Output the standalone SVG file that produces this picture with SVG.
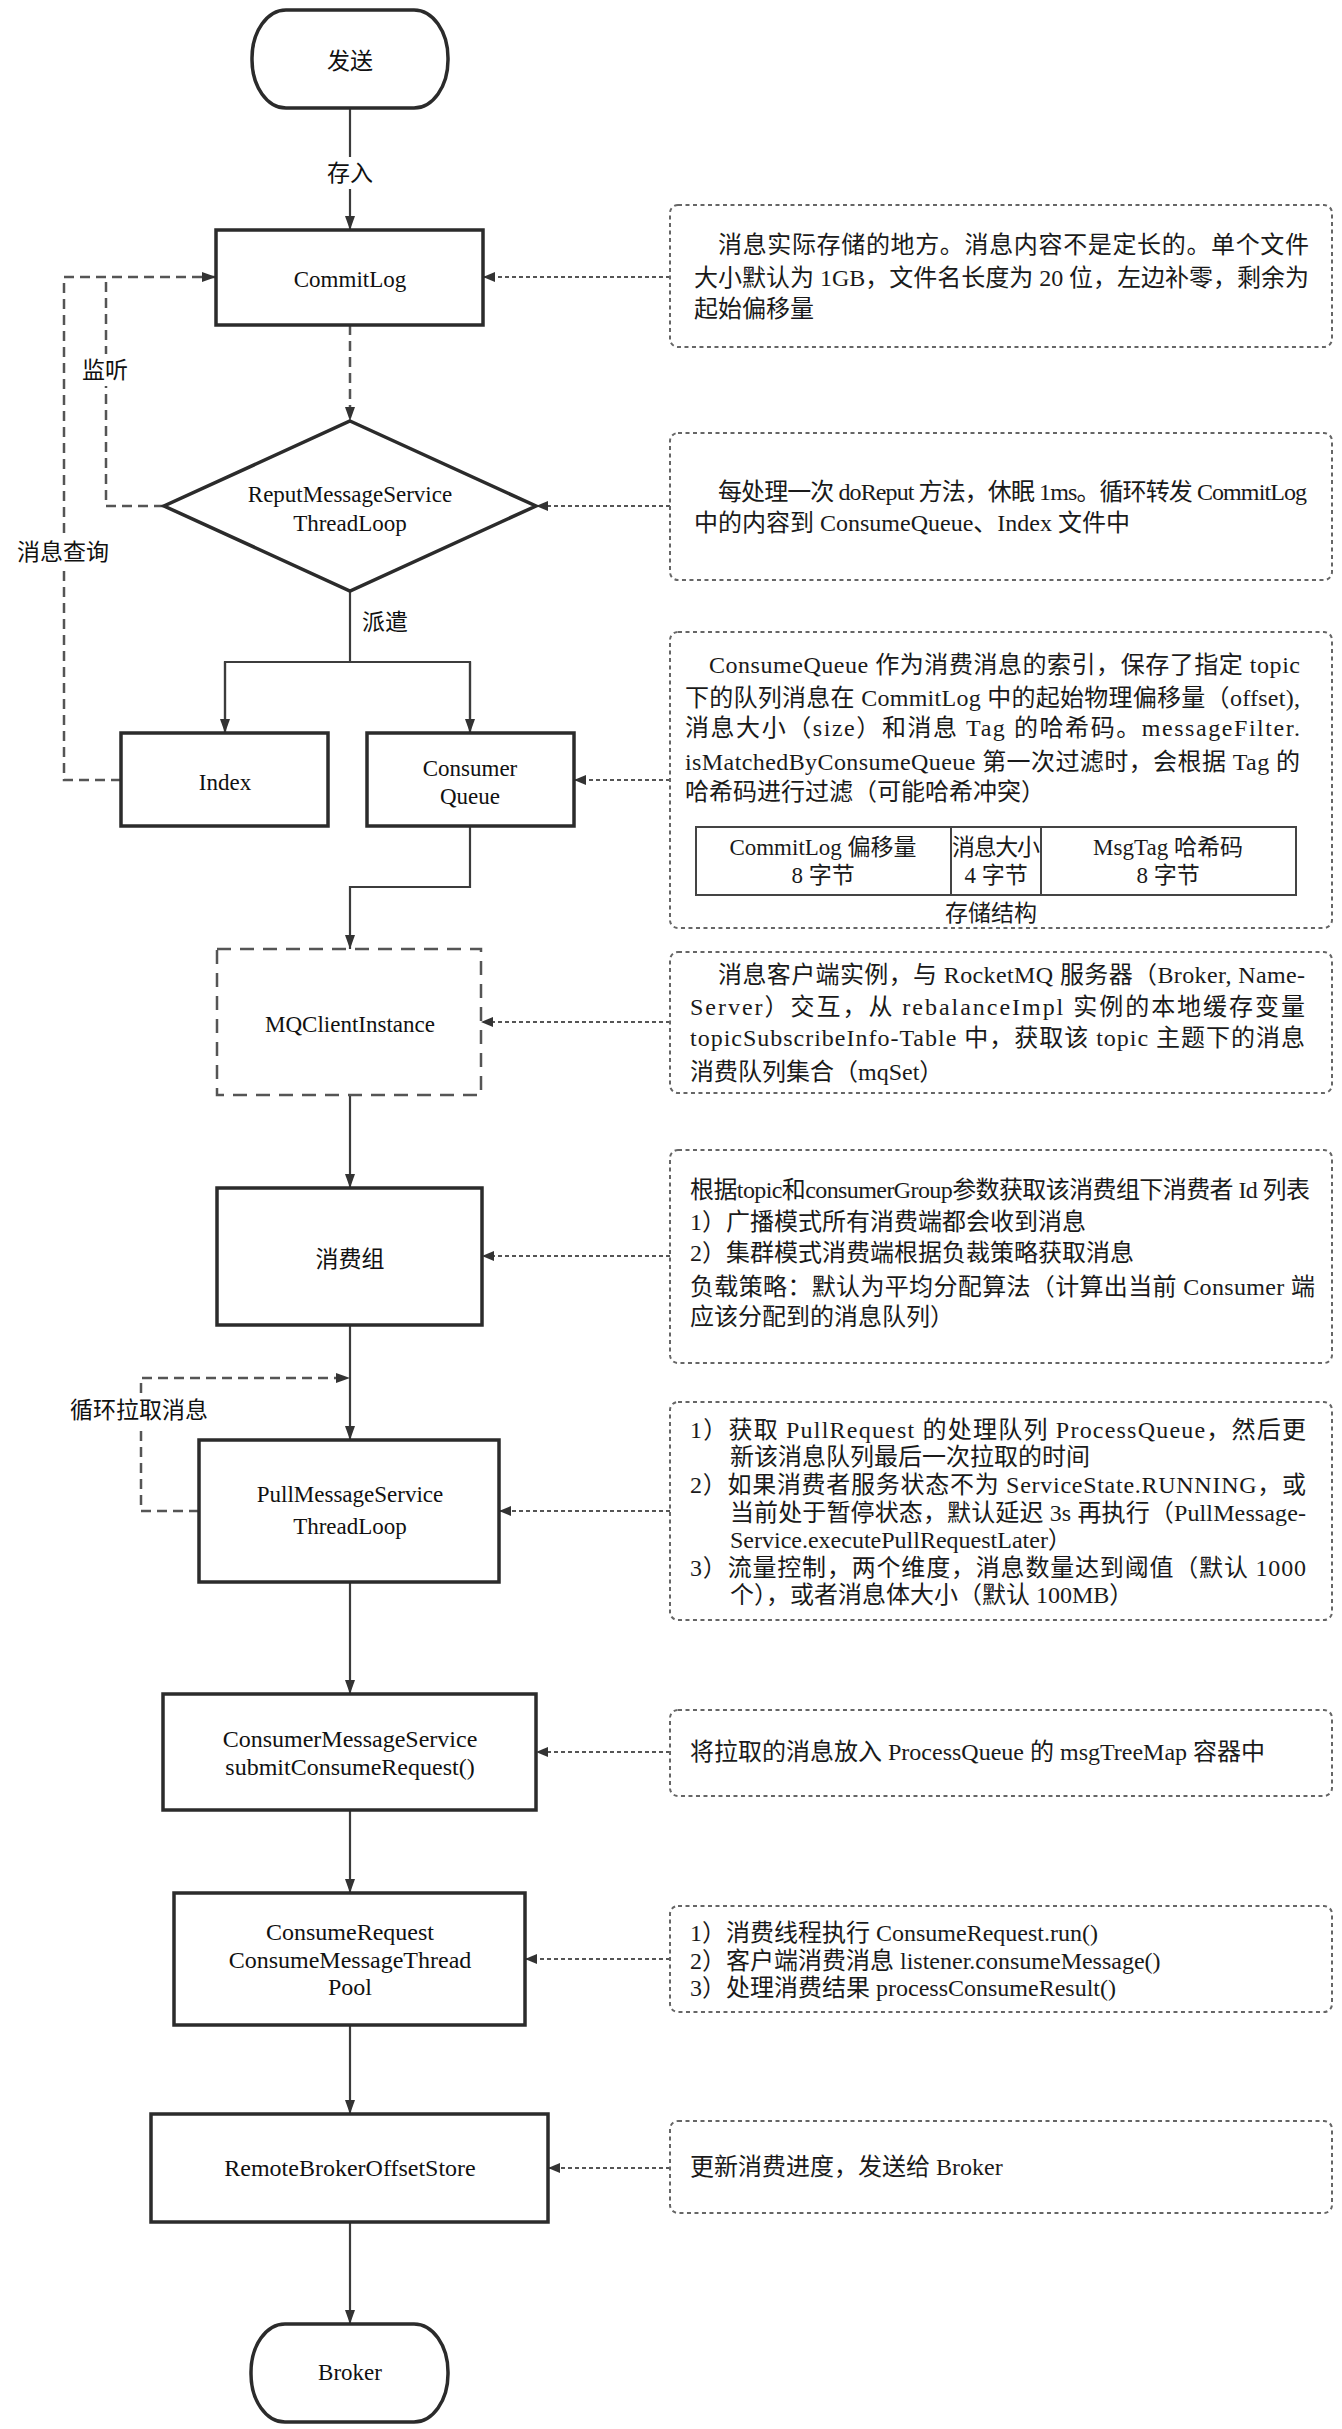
<svg xmlns="http://www.w3.org/2000/svg" width="1342" height="2429" viewBox="0 0 1342 2429">
<style>
.node{fill:#fff;stroke:#2b2b2b;stroke-width:3.5}
.dnode{fill:#fff;stroke:#555;stroke-width:2.5;stroke-dasharray:14 9}
.nt{font-family:"Liberation Serif","Noto Sans CJK SC",serif;font-size:23px;fill:#111;text-anchor:middle;dominant-baseline:central}
.nt2{font-family:"Liberation Serif","Noto Sans CJK SC",serif;font-size:24px;fill:#111;text-anchor:middle;dominant-baseline:central}
.lb{font-family:"Liberation Serif","Noto Sans CJK SC",serif;font-size:23px;fill:#111;text-anchor:middle;dominant-baseline:central}
.note{fill:none;stroke:#666;stroke-width:2;stroke-dasharray:4 3.5}
.tx{font-family:"Liberation Serif","Noto Sans CJK SC",serif;font-size:24px;fill:#1a1a1a;dominant-baseline:central}
.tc{font-family:"Liberation Serif","Noto Sans CJK SC",serif;font-size:23px;fill:#1a1a1a;dominant-baseline:central;text-anchor:middle}
.ln{fill:none;stroke:#3c3c3c;stroke-width:2.2}
.dl{fill:none;stroke:#555;stroke-width:2.5;stroke-dasharray:10 6}
.nd{fill:none;stroke:#555;stroke-width:2;stroke-dasharray:4 3}
.bg{fill:#fff;stroke:none}
.tb{fill:#fff;stroke:#444;stroke-width:2}
</style>
<defs>
<marker id="ah" viewBox="0 0 14 10" refX="14" refY="5" markerWidth="14" markerHeight="10" orient="auto" markerUnits="userSpaceOnUse"><path d="M0,0 L14,5 L0,10 z" fill="#333"/></marker>
<marker id="as" viewBox="0 0 12 10" refX="12" refY="5" markerWidth="12" markerHeight="10" orient="auto" markerUnits="userSpaceOnUse"><path d="M0,0 L12,5 L0,10 z" fill="#333"/></marker>
</defs>
<rect width="1342" height="2429" fill="#fff"/>

<g id="connectors">
  <!-- main flow -->
  <path class="ln" d="M350,108 V230" marker-end="url(#ah)"/>
  <path class="dl" d="M350,325 V421" marker-end="url(#ah)"/>
  <path class="ln" d="M350,591 V662"/>
  <path class="ln" d="M225,733 V662 H470 V733"/>
  <path class="ln" d="M225,662 V733" marker-end="url(#ah)"/>
  <path class="ln" d="M470,662 V733" marker-end="url(#ah)"/>
  <path class="ln" d="M470,826 V887 H350 V949" marker-end="url(#ah)"/>
  <path class="ln" d="M350,1095 V1188" marker-end="url(#ah)"/>
  <path class="ln" d="M350,1325 V1440" marker-end="url(#ah)"/>
  <path class="ln" d="M350,1582 V1694" marker-end="url(#ah)"/>
  <path class="ln" d="M350,1810 V1893" marker-end="url(#ah)"/>
  <path class="ln" d="M350,2025 V2114" marker-end="url(#ah)"/>
  <path class="ln" d="M350,2222 V2324" marker-end="url(#ah)"/>
  <!-- loops -->
  <path class="dl" d="M164,506 H106 V277"/>
  <path class="dl" d="M121,780 H64 V277 H216" marker-end="url(#ah)"/>
  <path class="dl" d="M199,1511 H141 V1378 H350" marker-end="url(#ah)"/>
  <!-- note connectors -->
  <path class="nd" d="M670,277 H483" marker-end="url(#as)"/>
  <path class="nd" d="M670,506 H536" marker-end="url(#as)"/>
  <path class="nd" d="M670,780 H574" marker-end="url(#as)"/>
  <path class="nd" d="M670,1022 H481" marker-end="url(#as)"/>
  <path class="nd" d="M670,1256 H482" marker-end="url(#as)"/>
  <path class="nd" d="M670,1511 H499" marker-end="url(#as)"/>
  <path class="nd" d="M670,1752 H536" marker-end="url(#as)"/>
  <path class="nd" d="M670,1959 H525" marker-end="url(#as)"/>
  <path class="nd" d="M670,2168 H548" marker-end="url(#as)"/>
  <!-- labels -->
  <rect class="bg" x="323" y="157" width="54" height="32"/>
  <text class="lb" x="350" y="173">存入</text>
  <rect class="bg" x="81" y="354" width="48" height="32"/>
  <text class="lb" x="105" y="370">监听</text>
  <rect class="bg" x="14" y="536" width="98" height="32"/>
  <text class="lb" x="63" y="552">消息查询</text>
  <text class="lb" x="385" y="622">派遣</text>
  <rect class="bg" x="66" y="1394" width="146" height="32"/>
  <text class="lb" x="139" y="1410">循环拉取消息</text>
</g>

<g id="node-send">
  <rect class="node" x="252" y="10" width="196" height="98" rx="34" ry="48"/>
  <text class="nt" x="350" y="61">发送</text>
</g>
<g id="node-commitlog">
  <rect class="node" x="216" y="230" width="267" height="95"/>
  <text class="nt" x="350" y="279">CommitLog</text>
</g>
<g id="node-reput">
  <path class="node" d="M350,421 L536,506 L350,591 L164,506 Z"/>
  <text class="nt" x="350" y="494">ReputMessageService</text>
  <text class="nt" x="350" y="523">ThreadLoop</text>
</g>
<g id="node-index">
  <rect class="node" x="121" y="733" width="207" height="93"/>
  <text class="nt" x="225" y="782">Index</text>
</g>
<g id="node-consumequeue">
  <rect class="node" x="367" y="733" width="207" height="93"/>
  <text class="nt" x="470" y="768">Consumer</text>
  <text class="nt" x="470" y="796">Queue</text>
</g>
<g id="node-mqclient">
  <rect class="dnode" x="217" y="949" width="264" height="146"/>
  <text class="nt" x="350" y="1024">MQClientInstance</text>
</g>
<g id="node-group">
  <rect class="node" x="217" y="1188" width="265" height="137"/>
  <text class="nt" x="350" y="1259">消费组</text>
</g>
<g id="node-pull">
  <rect class="node" x="199" y="1440" width="300" height="142"/>
  <text class="nt" x="350" y="1494">PullMessageService</text>
  <text class="nt" x="350" y="1526">ThreadLoop</text>
</g>
<g id="node-cms">
  <rect class="node" x="163" y="1694" width="373" height="116"/>
  <text class="nt2" x="350" y="1739">ConsumerMessageService</text>
  <text class="nt2" x="350" y="1767">submitConsumeRequest()</text>
</g>
<g id="node-cr">
  <rect class="node" x="174" y="1893" width="351" height="132"/>
  <text class="nt2" x="350" y="1932">ConsumeRequest</text>
  <text class="nt2" x="350" y="1960">ConsumeMessageThread</text>
  <text class="nt2" x="350" y="1987">Pool</text>
</g>
<g id="node-ros">
  <rect class="node" x="151" y="2114" width="397" height="108"/>
  <text class="nt2" x="350" y="2168">RemoteBrokerOffsetStore</text>
</g>
<g id="node-broker">
  <rect class="node" x="251" y="2324" width="197" height="98" rx="34" ry="48"/>
  <text class="nt" x="350" y="2372">Broker</text>
</g>

<g id="note-commitlog">
  <rect class="note" x="670" y="205" width="662" height="142" rx="8"/>
  <text class="tx" x="718" y="245" textLength="591">消息实际存储的地方。消息内容不是定长的。单个文件</text>
  <text class="tx" x="694" y="278" textLength="615">大小默认为 1GB，文件名长度为 20 位，左边补零，剩余为</text>
  <text class="tx" x="694" y="309">起始偏移量</text>
</g>
<g id="note-reput">
  <rect class="note" x="670" y="433" width="662" height="147" rx="8"/>
  <text class="tx" x="718" y="492" textLength="589">每处理一次 doReput 方法，休眠 1ms。循环转发 CommitLog</text>
  <text class="tx" x="694" y="523">中的内容到 ConsumeQueue、Index 文件中</text>
</g>
<g id="note-consumequeue">
  <rect class="note" x="670" y="632" width="662" height="296" rx="8"/>
  <text class="tx" x="709" y="665" textLength="591">ConsumeQueue 作为消费消息的索引，保存了指定 topic</text>
  <text class="tx" x="685" y="698" textLength="615">下的队列消息在 CommitLog 中的起始物理偏移量（offset),</text>
  <text class="tx" x="685" y="728" textLength="615">消息大小（size）和消息 Tag 的哈希码。messageFilter.</text>
  <text class="tx" x="685" y="762" textLength="615">isMatchedByConsumeQueue 第一次过滤时，会根据 Tag 的</text>
  <text class="tx" x="685" y="792">哈希码进行过滤（可能哈希冲突）</text>
  <rect class="tb" x="696" y="827" width="600" height="68"/>
  <path d="M951,827 V895 M1041,827 V895" stroke="#444" stroke-width="2"/>
  <text class="tc" x="823" y="847">CommitLog 偏移量</text>
  <text class="tc" x="823" y="875">8 字节</text>
  <text class="tc" x="996" y="847" textLength="88">消息大小</text>
  <text class="tc" x="996" y="875">4 字节</text>
  <text class="tc" x="1168" y="847">MsgTag 哈希码</text>
  <text class="tc" x="1168" y="875">8 字节</text>
  <text class="tc" x="991" y="913">存储结构</text>
</g>
<g id="note-mqclient">
  <rect class="note" x="670" y="952" width="662" height="141" rx="8"/>
  <text class="tx" x="718" y="975" textLength="587">消息客户端实例，与 RocketMQ 服务器（Broker, Name-</text>
  <text class="tx" x="690" y="1007" textLength="615">Server）交互，从 rebalanceImpl 实例的本地缓存变量</text>
  <text class="tx" x="690" y="1038" textLength="615">topicSubscribeInfo-Table 中，获取该 topic 主题下的消息</text>
  <text class="tx" x="690" y="1072">消费队列集合（mqSet）</text>
</g>
<g id="note-group">
  <rect class="note" x="670" y="1150" width="662" height="213" rx="8"/>
  <text class="tx" x="690" y="1190" textLength="620">根据topic和consumerGroup参数获取该消费组下消费者 Id 列表</text>
  <text class="tx" x="690" y="1222">1）广播模式所有消费端都会收到消息</text>
  <text class="tx" x="690" y="1253">2）集群模式消费端根据负裁策略获取消息</text>
  <text class="tx" x="690" y="1287" textLength="625">负载策略：默认为平均分配算法（计算出当前 Consumer 端</text>
  <text class="tx" x="690" y="1317">应该分配到的消息队列）</text>
</g>
<g id="note-pull">
  <rect class="note" x="670" y="1402" width="662" height="218" rx="8"/>
  <text class="tx" x="690" y="1430" textLength="616">1）获取 PullRequest 的处理队列 ProcessQueue，然后更</text>
  <text class="tx" x="730" y="1457">新该消息队列最后一次拉取的时间</text>
  <text class="tx" x="690" y="1485" textLength="616">2）如果消费者服务状态不为 ServiceState.RUNNING，或</text>
  <text class="tx" x="730" y="1513" textLength="576">当前处于暂停状态，默认延迟 3s 再执行（PullMessage-</text>
  <text class="tx" x="730" y="1540">Service.executePullRequestLater）</text>
  <text class="tx" x="690" y="1568" textLength="616">3）流量控制，两个维度，消息数量达到阈值（默认 1000</text>
  <text class="tx" x="730" y="1595">个），或者消息体大小（默认 100MB）</text>
</g>
<g id="note-cms">
  <rect class="note" x="670" y="1710" width="662" height="86" rx="8"/>
  <text class="tx" x="690" y="1752">将拉取的消息放入 ProcessQueue 的 msgTreeMap 容器中</text>
</g>
<g id="note-cr">
  <rect class="note" x="670" y="1906" width="662" height="106" rx="8"/>
  <text class="tx" x="690" y="1933">1）消费线程执行 ConsumeRequest.run()</text>
  <text class="tx" x="690" y="1961">2）客户端消费消息 listener.consumeMessage()</text>
  <text class="tx" x="690" y="1988">3）处理消费结果 processConsumeResult()</text>
</g>
<g id="note-ros">
  <rect class="note" x="670" y="2121" width="662" height="92" rx="8"/>
  <text class="tx" x="690" y="2167">更新消费进度，发送给 Broker</text>
</g>
</svg>
